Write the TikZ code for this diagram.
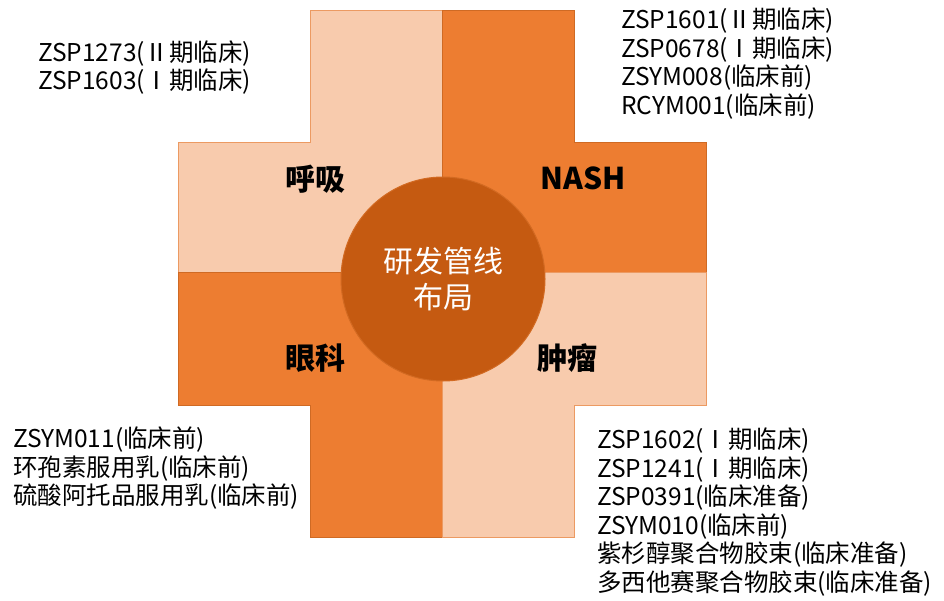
\documentclass[tikz,border=0pt]{standalone}
\usepackage{fontspec}
\setmainfont{Noto Sans CJK SC}
\definecolor{lightq}{HTML}{F8CBAD}
\definecolor{lightqedge}{HTML}{EC9A62}
\definecolor{darkq}{HTML}{ED7D31}
\definecolor{darkqedge}{HTML}{CF6A24}
\definecolor{hubfill}{HTML}{C55A11}
\definecolor{hubedge}{HTML}{D26A22}
\tikzset{
  lightquad/.style={fill=lightq, draw=lightqedge, line width=1pt, line join=miter},
  darkquad/.style={fill=darkq, draw=darkqedge, line width=1pt, line join=miter},
  hub/.style={circle, fill=hubfill, draw=hubedge, line width=1pt, minimum size=204pt,
    inner sep=0pt, text=white, align=center, font=\fontsize{30}{36}\selectfont},
  headlabel/.style={inner sep=0pt, font=\fontsize{30}{36}\selectfont\bfseries},
  itemlist/.style={inner sep=0pt, anchor=west, align=left,
    font=\fontsize{24.5}{28.5}\selectfont}
}
\begin{document}
\begin{tikzpicture}[x=1pt,y=-1pt]
\useasboundingbox (0,0) rectangle (944,601);
\fill[white] (0,0) rectangle (944,601);
% quadrants of the cross
\path[lightquad] (310,11) -- (442,11) -- (442,273) -- (178,273) -- (178,143) -- (310,143) -- cycle;
\path[darkquad] (442,11) -- (574,11) -- (574,143) -- (706,143) -- (706,273) -- (442,273) -- cycle;
\path[darkquad] (178,273) -- (442,273) -- (442,537) -- (310,537) -- (310,405) -- (178,405) -- cycle;
\path[lightquad] (442,273) -- (706,273) -- (706,405) -- (574,405) -- (574,537) -- (442,537) -- cycle;
% hub
\node[hub] (hubnode) at (443,279) {研发管线\\布局};
% quadrant labels
\node[headlabel] (resp) at (315,179) {呼吸};
\node[headlabel] (nash) at (583,178) {NASH};
\node[headlabel] (eye) at (315,358) {眼科};
\node[headlabel] (onco) at (567,358) {肿瘤};
% pipeline lists
\node[itemlist] (listresp) at (38,67.5) {ZSP1273(Ⅱ期临床)\\ZSP1603(Ⅰ期临床)};
\node[itemlist] (listnash) at (621,63.5) {ZSP1601(Ⅱ期临床)\\ZSP0678(Ⅰ期临床)\\ZSYM008(临床前)\\RCYM001(临床前)};
\node[itemlist] (listeye) at (13,468.5) {ZSYM011(临床前)\\环孢素服用乳(临床前)\\硫酸阿托品服用乳(临床前)};
\node[itemlist] (listonco) at (597,512) {ZSP1602(Ⅰ期临床)\\ZSP1241(Ⅰ期临床)\\ZSP0391(临床准备)\\ZSYM010(临床前)\\紫杉醇聚合物胶束(临床准备)\\多西他赛聚合物胶束(临床准备)};
\end{tikzpicture}
\end{document}
